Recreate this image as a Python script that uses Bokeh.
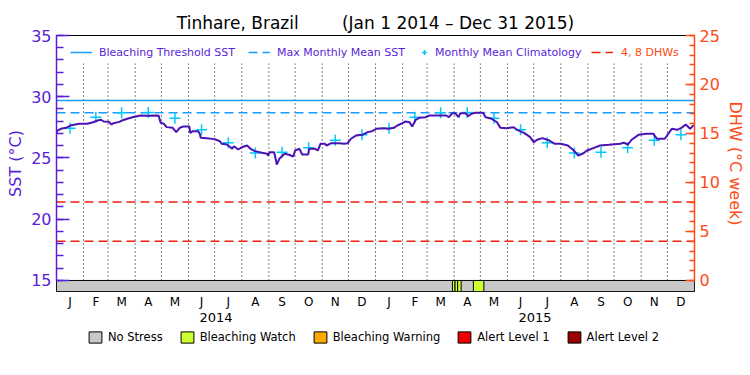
import pandas as pd
from bokeh.plotting import figure
from bokeh.layouts import column
from bokeh.models import Range1d, LinearAxis, FixedTicker, Legend, LegendItem
from bokeh.embed import file_html
from bokeh.resources import INLINE

# ---------------- data ----------------
period_start = "2014-01-01"
period_end = "2016-01-01"

sst_dates = [
    "2014-01-01", "2014-01-02", "2014-01-06", "2014-01-12", "2014-01-18", "2014-01-27",
    "2014-02-05", "2014-02-11", "2014-02-17", "2014-02-21", "2014-02-24",
    "2014-03-02", "2014-03-05", "2014-03-07", "2014-03-14", "2014-03-17", "2014-03-23", "2014-03-29",
    "2014-04-02", "2014-04-07", "2014-04-15", "2014-04-25", "2014-04-28", "2014-04-30",
    "2014-05-04", "2014-05-07", "2014-05-14", "2014-05-18", "2014-05-22", "2014-05-26",
    "2014-06-02", "2014-06-03", "2014-06-06", "2014-06-12", "2014-06-14", "2014-06-15", "2014-06-22",
    "2014-07-01", "2014-07-07", "2014-07-09", "2014-07-15", "2014-07-19", "2014-07-21", "2014-07-23", "2014-07-28",
    "2014-08-01", "2014-08-07", "2014-08-11", "2014-08-16", "2014-08-24", "2014-08-30", "2014-08-31",
    "2014-09-02", "2014-09-07", "2014-09-09", "2014-09-10", "2014-09-13", "2014-09-19", "2014-09-24", "2014-09-29",
    "2014-10-01", "2014-10-06", "2014-10-09", "2014-10-16", "2014-10-17", "2014-10-24", "2014-10-27", "2014-10-30",
    "2014-11-04", "2014-11-06", "2014-11-11", "2014-11-21", "2014-11-26", "2014-11-30",
    "2014-12-04", "2014-12-10", "2014-12-17", "2014-12-23", "2014-12-28",
    "2015-01-02", "2015-01-09", "2015-01-16", "2015-01-22", "2015-01-26",
    "2015-02-01", "2015-02-04", "2015-02-09", "2015-02-12", "2015-02-16", "2015-02-20", "2015-02-27",
    "2015-03-04", "2015-03-23", "2015-03-26", "2015-03-30",
    "2015-04-02", "2015-04-06", "2015-04-08", "2015-04-14", "2015-04-17", "2015-04-21", "2015-04-25",
    "2015-05-04", "2015-05-07", "2015-05-14", "2015-05-20", "2015-05-24", "2015-05-31",
    "2015-06-08", "2015-06-12", "2015-06-20", "2015-06-27",
    "2015-07-01", "2015-07-05", "2015-07-11", "2015-07-19", "2015-07-25",
    "2015-08-01", "2015-08-09", "2015-08-15", "2015-08-21", "2015-08-27", "2015-08-31",
    "2015-09-08", "2015-09-15", "2015-09-25",
    "2015-10-08", "2015-10-12", "2015-10-17", "2015-10-21", "2015-10-29",
    "2015-11-07", "2015-11-15", "2015-11-17", "2015-11-19", "2015-11-28",
    "2015-12-06", "2015-12-12", "2015-12-17", "2015-12-22", "2015-12-27", "2015-12-31",
]
sst_values = [
    27.03, 27.24, 27.38, 27.46, 27.68, 27.79,
    27.79, 27.90, 28.06, 28.12, 27.98,
    27.95, 27.73, 27.84, 27.95, 28.06, 28.20, 28.33,
    28.39, 28.47, 28.44, 28.47, 28.44, 27.90,
    27.79, 27.52, 27.46, 27.11, 27.46, 27.57,
    27.57, 27.05, 27.19, 27.19, 26.97, 26.65, 26.62,
    26.54, 26.37, 26.16, 26.10, 25.88, 25.75, 25.96, 25.69,
    25.88, 26.02, 25.75, 25.56, 25.42, 25.34, 25.20,
    25.47, 25.47, 24.85, 24.47, 24.93, 25.34, 25.26, 25.12,
    25.61, 25.75, 25.29, 25.29, 25.75, 25.75, 25.61, 26.16,
    26.16, 26.02, 26.20, 26.20, 26.16, 26.20,
    26.57, 26.84, 26.89, 27.11, 27.19,
    27.38, 27.43, 27.38, 27.46, 27.65,
    27.84, 27.98, 27.92, 27.57, 28.12, 28.28, 28.33,
    28.47, 28.47, 28.33, 28.66,
    28.66, 28.33, 28.66, 28.66, 28.41, 28.61, 28.69,
    28.69, 28.33, 28.20, 27.92, 27.46, 27.43,
    27.51, 27.30, 27.05, 26.70,
    26.29, 26.49, 26.62, 26.43, 26.16,
    26.16, 26.02, 25.67, 25.20, 25.39, 25.61,
    25.83, 26.02, 26.08,
    26.16, 26.24, 26.10, 26.49, 26.89,
    26.97, 26.97, 26.76, 26.57, 26.57,
    27.38, 27.30, 27.46, 27.73, 27.38, 27.68,
]

# monthly mean climatology (Jan..Dec), repeated for both years
clim_values = [27.43, 28.33, 28.69, 28.71, 28.25, 27.30, 26.24, 25.40, 25.47, 25.83, 26.45, 26.89]
bleaching_threshold = 29.7
max_monthly_mean = 28.7
dhw_levels = [4, 8]

month_labels = ["J", "F", "M", "A", "M", "J", "J", "A", "S", "O", "N", "D"]
year_labels = ["2014", "2015"]
sst_ticks = [15, 20, 25, 30, 35]
dhw_ticks = [0, 5, 10, 15, 20, 25]

stress_labels = ["No Stress", "Bleaching Watch", "Bleaching Warning", "Alert Level 1", "Alert Level 2"]
stress_colors = ["#c8c8c8", "#ccff33", "#ffaa00", "#ee0000", "#990000"]
watch_starts = ["2015-03-30", "2015-04-02", "2015-04-05", "2015-04-23"]
watch_ends = ["2015-04-02", "2015-04-05", "2015-04-09", "2015-05-05"]

# ---------------- style ----------------
FONT = "DejaVu Sans"
PURPLE = "#5a1ed6"
LINE_PURPLE = "#4b12b4"
ORANGE = "#ff4a14"
BLUE = "#1a9cff"
CYAN = "#00c8ff"
RED = "#f01e0f"
SST_MIN, SST_MAX = 15, 35
BAR_BOTTOM = 14.1
DOT_TOP = 32.7
DHW_PER_SST = 25 / 20
W = 748
NAN = float("nan")


def to_ms(s):
    return pd.Timestamp(s).value // 10**6


x0, x1 = to_ms(period_start), to_ms(period_end)
month_starts = [to_ms(t) for t in pd.date_range(period_start, period_end, freq="MS")]
month_mids = [(a + b) // 2 for a, b in zip(month_starts[:-1], month_starts[1:])]
year_starts = [to_ms(t) for t in pd.date_range(period_start, period_end, freq="YS")]
year_mids = [(a + b) // 2 for a, b in zip(year_starts[:-1], year_starts[1:])]

p = figure(width=W, height=326, x_axis_type=None,
           x_range=Range1d(x0, x1), y_range=Range1d(BAR_BOTTOM, SST_MAX),
           output_backend="svg", toolbar_location=None,
           min_border_left=56, min_border_right=54, min_border_top=35, min_border_bottom=35,
           outline_line_color="black", outline_line_width=1)
p.grid.visible = False
p.extra_y_ranges = {"dhw": Range1d((BAR_BOTTOM - SST_MIN) * DHW_PER_SST, 25)}

# title
p.title.text = "Tinhare, Brazil" + "\u00a0" * 8 + "(Jan 1 2014 \u2013 Dec 31 2015)"
p.title.align = "center"
p.title.text_font = FONT
p.title.text_font_size = "17px"
p.title.text_font_style = "normal"
p.title.text_color = "black"
p.title.standoff = 6

# stress bar
p.quad(left=[x0], right=[x1], bottom=[BAR_BOTTOM], top=[SST_MIN],
       fill_color=stress_colors[0], line_color="black", line_width=1)
p.quad(left=[to_ms(s) for s in watch_starts], right=[to_ms(e) for e in watch_ends],
       bottom=BAR_BOTTOM, top=SST_MIN, fill_color=stress_colors[1], line_color="black", line_width=1)

# dotted month separators
inner = month_starts[1:-1]
p.segment(x0=inner, y0=SST_MIN, x1=inner, y1=DOT_TOP, line_color="black",
          line_dash="1 3", line_width=1)

# reference lines
r_thr = p.line([x0, x1], [bleaching_threshold] * 2, line_color=BLUE, line_width=1.5)
r_mmm = p.line([x0, x1], [max_monthly_mean] * 2, line_color=BLUE, line_width=1.5, line_dash="9 5")
r_dhw = p.multi_line(xs=[[x0, x1] for _ in dhw_levels], ys=[[d, d] for d in dhw_levels],
                     y_range_name="dhw", line_color=RED, line_width=1.5, line_dash="9 5")

# climatology and SST
r_clim = p.scatter(month_mids, clim_values * 2, marker="cross", size=11,
                   line_color=CYAN, line_width=1.5)
p.line([to_ms(d) for d in sst_dates], sst_values, line_color=LINE_PURPLE, line_width=2)


def style_side_axis(ax, col, tick_in, minor_in):
    ax.axis_line_color = col
    ax.axis_line_width = 1.5
    ax.major_tick_line_color = col
    ax.minor_tick_line_color = col
    ax.major_tick_line_width = 1.5
    ax.minor_tick_line_width = 1.5
    ax.major_tick_in = tick_in
    ax.major_tick_out = 0
    ax.minor_tick_in = minor_in
    ax.minor_tick_out = 0
    ax.major_label_text_color = col
    ax.major_label_text_font = FONT
    ax.major_label_text_font_size = "16px"
    ax.major_label_standoff = 5
    ax.axis_label_text_color = col
    ax.axis_label_text_font = FONT
    ax.axis_label_text_font_size = "16px"
    ax.axis_label_text_font_style = "normal"
    ax.axis_label_standoff = 3


# left axis
ya = p.yaxis[0]
ya.ticker = FixedTicker(ticks=sst_ticks, minor_ticks=list(range(SST_MIN, SST_MAX + 1)))
ya.bounds = (SST_MIN, SST_MAX)
ya.axis_label = "SST (\u00b0C)"
style_side_axis(ya, PURPLE, 13, 7)

# right axis
ra = LinearAxis(y_range_name="dhw",
                ticker=FixedTicker(ticks=dhw_ticks, minor_ticks=list(range(0, 26))),
                bounds=(0, 25), axis_label="DHW (\u00b0C week)")
style_side_axis(ra, ORANGE, 9, 5)
p.add_layout(ra, "right")

# month axis
ma = LinearAxis(ticker=FixedTicker(ticks=month_mids, minor_ticks=[]),
                major_label_overrides={m: month_labels[i % 12] for i, m in enumerate(month_mids)})
# year axis
yr = LinearAxis(ticker=FixedTicker(ticks=year_mids, minor_ticks=[]),
                major_label_overrides={m: year_labels[i] for i, m in enumerate(year_mids)})
for ax, fs, so in ((ma, "12px", 3), (yr, "13px", 1)):
    ax.axis_line_color = None
    ax.major_tick_line_color = None
    ax.minor_tick_line_color = None
    ax.major_tick_in = 0
    ax.major_tick_out = 0
    ax.major_label_text_font = FONT
    ax.major_label_text_font_size = fs
    ax.major_label_text_color = "black"
    ax.major_label_standoff = so
    p.add_layout(ax, "below")


def make_legend(fig, items, loc, color, gw, gh, standoff, spacing, fs):
    lg = Legend(items=items, location=loc, orientation="horizontal",
                glyph_width=gw, glyph_height=gh, label_height=gh,
                label_standoff=standoff, spacing=spacing, padding=0, margin=0,
                border_line_alpha=0, background_fill_alpha=0,
                label_text_font=FONT, label_text_font_size=fs,
                label_text_color=color)
    fig.add_layout(lg)
    return lg


# top legends (inside the frame)
make_legend(p, [LegendItem(label="Bleaching Threshold SST", renderers=[r_thr]),
                LegendItem(label="Max Monthly Mean SST", renderers=[r_mmm])],
            (14, 232), PURPLE, 22, 14, 7, 13, "11px")
make_legend(p, [LegendItem(label="Monthly Mean Climatology", renderers=[r_clim])],
            (362, 232), PURPLE, 12, 14, 5, 13, "11px")
make_legend(p, [LegendItem(label="4, 8 DHWs", renderers=[r_dhw])],
            (535, 232), ORANGE, 22, 14, 8, 13, "11px")

# bottom stress legend in its own strip (frame aligned with the main plot)
q = figure(width=W, height=30, x_axis_type=None, y_axis_type=None,
           x_range=Range1d(0, 1), y_range=Range1d(0, 1),
           output_backend="svg", toolbar_location=None,
           min_border_left=56, min_border_right=54, min_border_top=0, min_border_bottom=0,
           outline_line_color=None)
q.grid.visible = False
stress_items = []
for lab, col in zip(stress_labels, stress_colors):
    r = q.quad(left=[NAN], right=[NAN], bottom=[NAN], top=[NAN],
               fill_color=col, line_color="black", line_width=1)
    stress_items.append(LegendItem(label=lab, renderers=[r]))
make_legend(q, stress_items, (31, 12), "black", 16, 14, 5, 16, "11.5px")

layout = column(p, q, spacing=0)
open("out.html", "w").write(file_html(layout, INLINE, "Tinhare, Brazil"))
